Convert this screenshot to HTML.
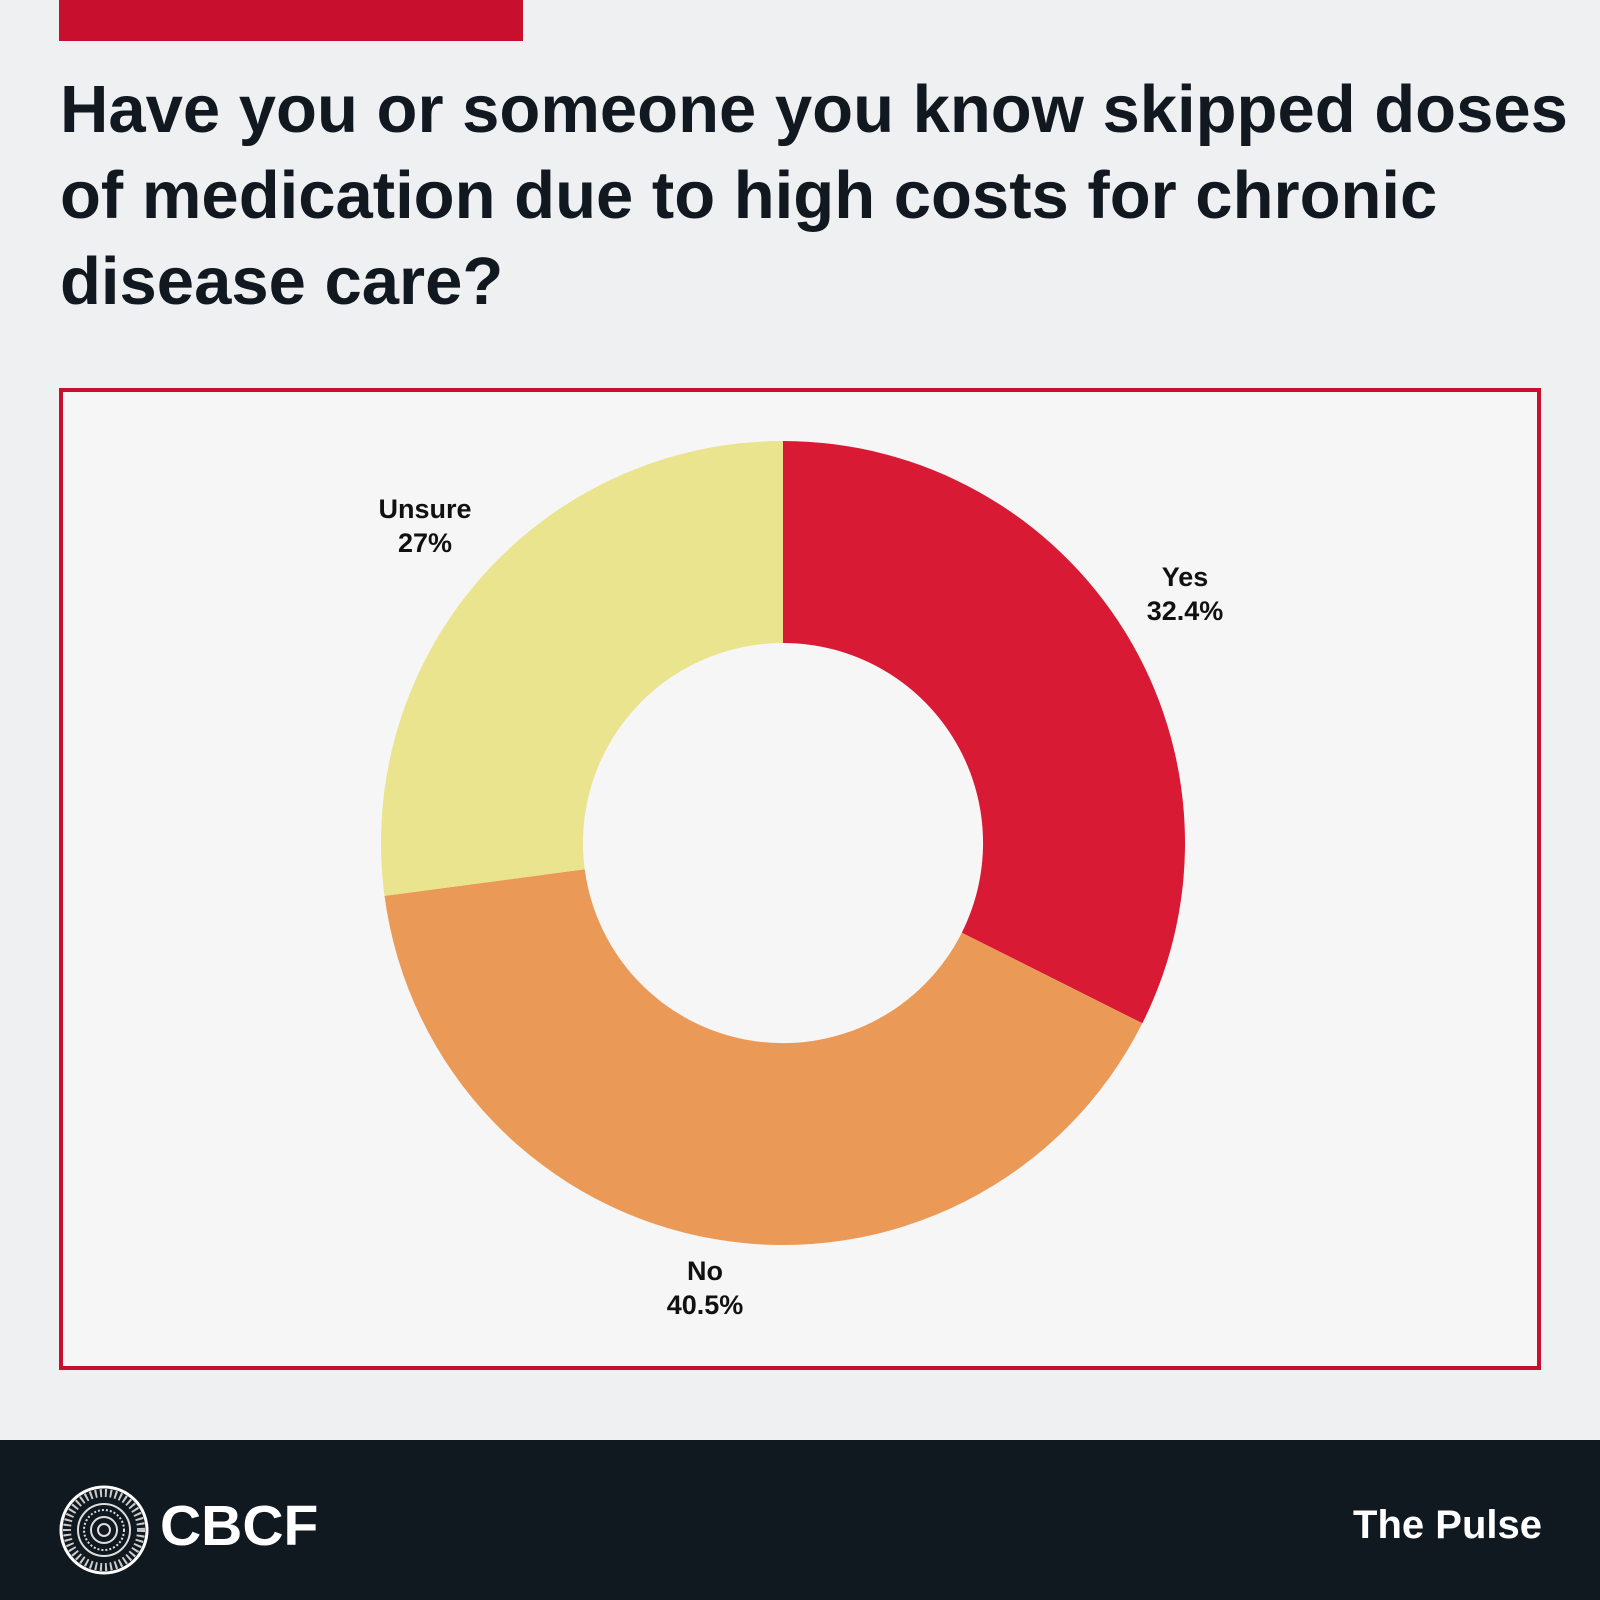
<!DOCTYPE html>
<html><head><style>
body{margin:0;width:1600px;height:1600px;background:#eef0f2;position:relative;overflow:hidden;font-family:"Liberation Sans",sans-serif}
.bar{position:absolute;left:59px;top:0;width:464px;height:41px;background:#c8102e}
h1{position:absolute;left:60px;top:67px;margin:0;font-size:67px;line-height:86px;font-weight:bold;color:#111820;width:1560px;letter-spacing:0px;white-space:nowrap}
.box{position:absolute;left:59px;top:388px;width:1482px;height:982px;border:4px solid #c8102e;background:#f6f6f6;box-sizing:border-box}
.foot{position:absolute;left:0;top:1440px;width:1600px;height:160px;background:#101820;color:#fff}
.lbl{position:absolute;font-size:27px;font-weight:bold;color:#111;text-align:center;line-height:34px}
</style></head><body>
<div class="bar"></div>
<h1>Have you or someone you know skipped doses<br>of medication due to high costs for chronic<br>disease care?</h1>
<div class="box"></div>
<svg style="position:absolute;left:0;top:0" width="1600" height="1440">
<path d="M783 441 A402 402 0 0 1 1142.3 1023.3 L961.8 932.7 A200 200 0 0 0 783 643 Z" fill="#d91a34"/>
<path d="M1142.3 1023.3 A402 402 0 0 1 384.5 895.9 L584.7 869.3 A200 200 0 0 0 961.8 932.7 Z" fill="#ea9a56"/>
<path d="M384.5 895.9 A402 402 0 0 1 783 441 L783 643 A200 200 0 0 0 584.7 869.3 Z" fill="#e9e48d"/>
</svg>
<div class="lbl" style="left:1120px;top:560px;width:130px">Yes<br>32.4%</div>
<div class="lbl" style="left:355px;top:492px;width:140px">Unsure<br>27%</div>
<div class="lbl" style="left:640px;top:1254px;width:130px">No<br>40.5%</div>
<div class="foot">
<svg style="position:absolute;left:59px;top:45px" width="90" height="90">
<circle cx="45" cy="45" r="43" fill="none" stroke="#fff" stroke-width="3"/>
<circle cx="45" cy="45" r="37" fill="none" stroke="#ccc" stroke-width="8" stroke-dasharray="2 3"/>
<circle cx="45" cy="45" r="26" fill="none" stroke="#ddd" stroke-width="2"/>
<circle cx="45" cy="45" r="20" fill="none" stroke="#ddd" stroke-width="2" stroke-dasharray="2 2"/>
<circle cx="45" cy="45" r="13" fill="none" stroke="#ddd" stroke-width="2"/>
<circle cx="45" cy="45" r="6" fill="none" stroke="#ddd" stroke-width="2"/>
</svg>
<div style="position:absolute;left:160px;top:53px;font-size:57px;font-weight:bold;letter-spacing:0px">CBCF</div>
<div style="position:absolute;right:58px;top:63px;font-size:40px;font-weight:bold">The Pulse</div>
</div>
</body></html>
